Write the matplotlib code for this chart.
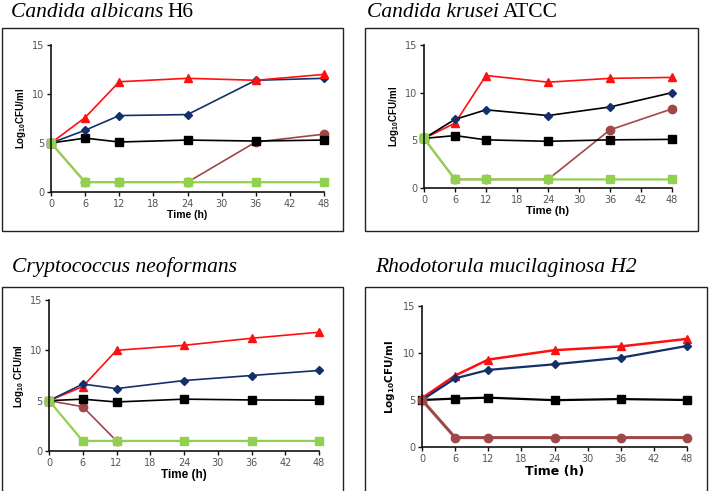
import matplotlib
matplotlib.use("Agg")
import matplotlib.pyplot as plt
from matplotlib.patches import Rectangle

plt.rcParams['mathtext.default'] = 'regular'

time_h = [0, 6, 12, 24, 36, 48]
x_ticks = [0, 6, 12, 18, 24, 30, 36, 42, 48]
y_ticks = [0, 5, 10, 15]

# Candida albicans H6
alb_red = [5.0, 7.6, 11.25, 11.6, 11.4, 12.0]
alb_blue = [5.0, 6.3, 7.8, 7.9, 11.4, 11.6]
alb_black = [5.0, 5.5, 5.1, 5.3, 5.2, 5.3]
alb_brown = [5.0, 1.0, 1.0, 1.0, 5.1, 5.9]
alb_green = [5.0, 1.0, 1.0, 1.0, 1.0, 1.0]

# Candida krusei ATCC
kru_red = [5.2, 6.8, 11.8, 11.1, 11.5, 11.6]
kru_blue = [5.2, 7.2, 8.2, 7.6, 8.5, 10.0]
kru_black = [5.2, 5.5, 5.05, 4.9, 5.05, 5.1]
kru_brown = [5.2, 0.9, 0.9, 0.9, 6.1, 8.3]
kru_green = [5.2, 0.9, 0.9, 0.9, 0.9, 0.9]

# Cryptococcus neoformans
cry_red = [5.0, 6.4, 10.0, 10.5, 11.2, 11.8]
cry_blue = [5.0, 6.65, 6.2, 7.0, 7.5, 8.0]
cry_black = [5.0, 5.15, 4.87, 5.15, 5.07, 5.05]
cry_brown_t = [0, 6, 12]
cry_brown = [5.0, 4.4, 1.0]
cry_green = [5.0, 1.0, 1.0, 1.0, 1.0, 1.0]

# Rhodotorula mucilaginosa H2
rho_red = [5.2, 7.6, 9.3, 10.3, 10.7, 11.5]
rho_blue = [5.0, 7.3, 8.2, 8.8, 9.5, 10.75]
rho_black = [5.0, 5.15, 5.25, 4.98, 5.1, 5.0]
rho_brown = [5.0, 1.0, 1.0, 1.0, 1.0, 1.0]

RED = '#FF1010'
NAVY = '#14306A'
BROWN = '#A04848'
GREEN = '#92D050'

W, H = 709, 491
fig = plt.figure(figsize=(W / 100, H / 100), dpi=100)


def frac(l, r, t, b):
    return [l / W, 1 - b / H, (r - l) / W, (b - t) / H]


def frame(l, t, r, b):
    fig.patches.append(Rectangle((l / W, 1 - b / H), (r - l) / W, (b - t) / H,
                                 transform=fig.transFigure, fill=False,
                                 edgecolor='#222222', linewidth=1.0))


def setup(ax, ylab, xfs, yfs, fam, ypad=3):
    ax.set_xlim(0, 48)
    ax.set_ylim(0, 15)
    ax.set_xticks(x_ticks)
    ax.set_yticks(y_ticks)
    for s in ['top', 'right']:
        ax.spines[s].set_visible(False)
    for s in ['left', 'bottom']:
        ax.spines[s].set_linewidth(1.2)
        ax.spines[s].set_color('#111111')
    ax.tick_params(axis='both', direction='out', length=3, width=1,
                   labelsize=7, labelcolor='#555555', color='#111111', pad=2)
    ax.set_xlabel('Time (h)', fontsize=xfs, fontweight='bold', labelpad=1,
                  family=fam)
    ax.set_ylabel(ylab, fontsize=yfs, fontweight='bold', labelpad=ypad,
                  family=fam)
    ax.patch.set_alpha(0)


def line(ax, x, y, color, marker, ms, lc=None, lw=1.2):
    ax.plot(x, y, color=lc if lc else color, marker=marker, markersize=ms,
            markerfacecolor=color, markeredgecolor=color, linewidth=lw,
            clip_on=False)


frame(2, 28, 343, 231)
frame(365, 28, 698, 231)
frame(2, 287, 343, 494)
frame(365, 287, 707, 494)


def rich_title(x, y, italic_text, roman_text):
    t = fig.text(x / W, 1 - y / H, italic_text, fontsize=15.5,
                 family='Liberation Serif', style='italic', ha='left',
                 va='baseline')
    if roman_text:
        fig.canvas.draw()
        bb = t.get_window_extent()
        fig.text(bb.x1 / W + 4 / W, 1 - y / H, roman_text, fontsize=15.5,
                 family='Liberation Serif', style='normal', ha='left',
                 va='baseline')


rich_title(11, 17, 'Candida albicans', 'H6')
rich_title(367, 17, 'Candida krusei', 'ATCC')
rich_title(12, 272, 'Cryptococcus neoformans', '')
rich_title(375, 272, 'Rhodotorula mucilaginosa H2', '')

SANS = 'Liberation Sans'

# Panel 1
ax1 = fig.add_axes(frac(51, 324, 45, 192))
setup(ax1, 'Log$_{10}$CFU/ml', 7.5, 7, SANS)
line(ax1, time_h, alb_brown, BROWN, 'o', 6)
line(ax1, time_h, alb_black, 'black', 's', 6)
line(ax1, time_h, alb_blue, NAVY, 'D', 4)
line(ax1, time_h, alb_red, RED, '^', 6)
line(ax1, time_h, alb_green, GREEN, 's', 6, lw=1.6)

# Panel 2
ax2 = fig.add_axes(frac(424, 672, 45, 188))
setup(ax2, 'Log$_{10}$CFU/ml', 8, 7, SANS)
line(ax2, time_h, kru_brown, BROWN, 'o', 6)
line(ax2, time_h, kru_black, 'black', 's', 6)
line(ax2, time_h, kru_red, RED, '^', 6)
line(ax2, time_h, kru_blue, NAVY, 'D', 4, lc='black')
line(ax2, time_h, kru_green, GREEN, 's', 6, lw=1.6)

# Panel 3
ax3 = fig.add_axes(frac(49, 319, 300, 451))
setup(ax3, 'Log$_{10}$ CFU/ml', 8.5, 7, SANS)
line(ax3, cry_brown_t, cry_brown, BROWN, 'o', 6)
line(ax3, time_h, cry_black, 'black', 's', 6)
line(ax3, time_h, cry_red, RED, '^', 6)
line(ax3, time_h, cry_blue, NAVY, 'D', 4)
line(ax3, time_h, cry_green, GREEN, 's', 6, lw=1.6)

# Panel 4
ax4 = fig.add_axes(frac(422, 687, 306, 447))
setup(ax4, 'Log$_{10}$CFU/ml', 9, 7.5, 'DejaVu Sans', ypad=4)
line(ax4, time_h, rho_black, 'black', 's', 6, lw=1.6)
line(ax4, time_h, rho_red, RED, '^', 6, lw=1.8)
line(ax4, time_h, rho_blue, NAVY, 'D', 4, lw=1.6)
line(ax4, time_h, rho_brown, BROWN, 'o', 6, lw=2.2)

fig.savefig('out.png', dpi=100)
